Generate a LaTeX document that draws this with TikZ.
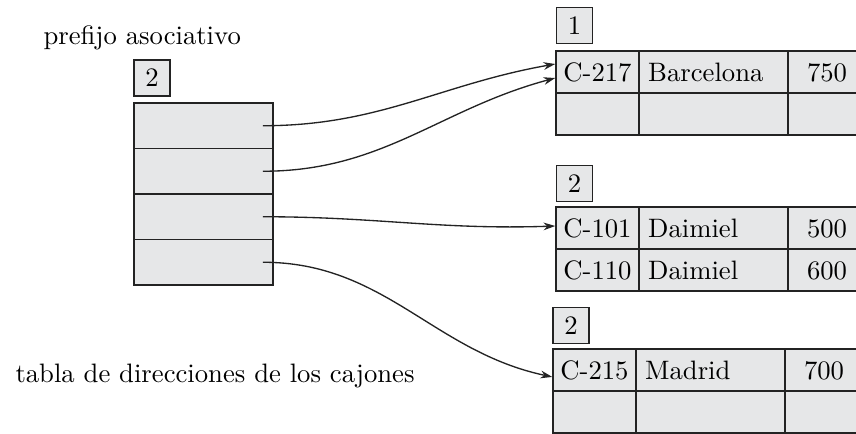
\documentclass[tikz,border=0pt]{standalone}
\usepackage{tikz}
\usetikzlibrary{arrows.meta}
\definecolor{cellGray}{RGB}{230,231,232}
\definecolor{lineGray}{RGB}{35,35,35}

\begin{document}
\begin{tikzpicture}[x=0.375pt, y=-0.375pt, >={Stealth[length=4.4pt,width=2.9pt]},
  cell/.style={draw=lineGray, fill=cellGray, line width=0.6pt, inner sep=0pt,
               minimum height=15.75pt, text height=6.9pt, text depth=0pt},
  keycell/.style={cell, minimum width=31.1pt},
  namecell/.style={cell, text width=49pt, inner xsep=3.45pt, align=left},
  valcell/.style={cell, minimum width=29.25pt},
  dircell/.style={cell, minimum width=52.1pt, minimum height=17.06pt},
  pfx/.style={cell, minimum width=13.5pt, minimum height=13.5pt, text height=6.4pt},
  lbl/.style={anchor=base west, inner sep=0pt},
  ptr/.style={->, draw=lineGray, line width=0.5pt}]

  \useasboundingbox (0,0) rectangle (856,434);
  \clip (0,0) rectangle (856,434);

  \node[lbl] (lblpre) at (43,45) {prefijo asociativo};
  \node[pfx] (pfx0) at (152,78) {2};
  \foreach \i/\y in {1/125.75,2/171.25,3/216.75,4/262.25}
    \node[dircell] (dir\i) at (203.5,\y) {};
  \node[lbl] (lbltab) at (15,382) {tabla de direcciones de los cajones};

  \node[pfx] (pfx1) at (574.5,25.5) {1};
  \node[keycell]  (b1k1) at (597.5,72)  {C-217};
  \node[namecell] (b1n1) at (713.5,72)  {Barcelona};
  \node[valcell]  (b1v1) at (827,72)    {750};
  \node[keycell]  (b1k2) at (597.5,114) {};
  \node[namecell] (b1n2) at (713.5,114) {};
  \node[valcell]  (b1v2) at (827,114)   {};

  \node[pfx] (pfx2) at (574.5,183.5) {2};
  \node[keycell]  (b2k1) at (597.5,228) {C-101};
  \node[namecell] (b2n1) at (713.5,228) {Daimiel};
  \node[valcell]  (b2v1) at (827,228)   {500};
  \node[keycell]  (b2k2) at (597.5,270) {C-110};
  \node[namecell] (b2n2) at (713.5,270) {Daimiel};
  \node[valcell]  (b2v2) at (827,270)   {600};

  \node[pfx] (pfx3) at (571,325.5) {2};
  \node[keycell]  (b3k1) at (594.5,370) {C-215};
  \node[namecell] (b3n1) at (710.5,370) {Madrid};
  \node[valcell]  (b3v1) at (824,370)   {700};
  \node[keycell]  (b3k2) at (594.5,412) {};
  \node[namecell] (b3n2) at (710.5,412) {};
  \node[valcell]  (b3v2) at (824,412)   {};

  \draw[ptr] ([xshift=-4.1pt]dir1.east) to[out=0,in=190] ([yshift=3pt]b1k1.west);
  \draw[ptr] ([xshift=-4.1pt]dir2.east) to[out=0,in=195] ([yshift=-2.25pt]b1k1.west);
  \draw[ptr] ([xshift=-4.1pt]dir3.east) to[out=0,in=182] ([yshift=0.75pt]b2k1.west);
  \draw[ptr] ([xshift=-4.1pt]dir4.east) to[out=0,in=168] ([yshift=-2.6pt]b3k1.west);

\end{tikzpicture}
\end{document}
